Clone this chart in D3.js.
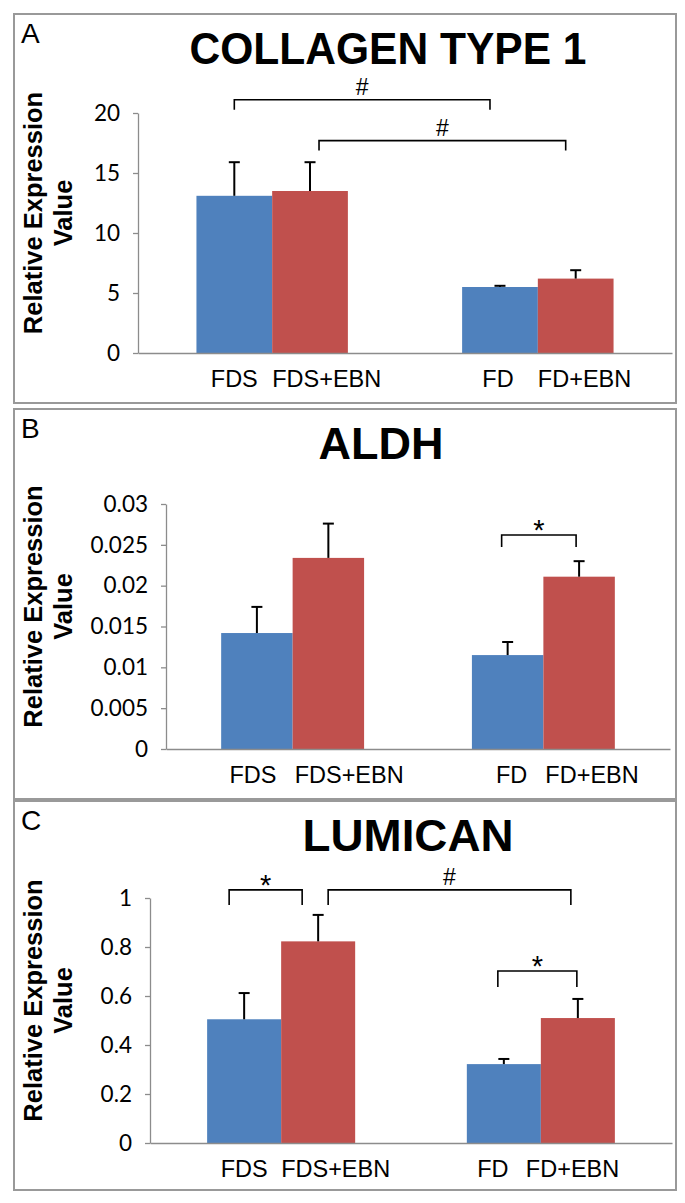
<!DOCTYPE html>
<html>
<head>
<meta charset="utf-8">
<script src="https://cdn.jsdelivr.net/npm/d3@7"></script>
<style>
  body { margin: 0; background: #fff; }
  svg { display: block; }
</style>
</head>
<body>
<div id="chart"></div>
<script>
// categories and series
const categories = ["FDS", "FDS+EBN", "FD", "FD+EBN"];
const groups = ["FDS", "FD"];
const series = ["base", "EBN"];

const panelLetters = ["A", "B", "C"];
const panelTitles = ["COLLAGEN TYPE 1", "ALDH", "LUMICAN"];

// values (mean, error above mean)
const collagenMeans = [13.1, 13.5, 5.5, 6.2];
const collagenErrors = [2.8, 2.4, 0.1, 0.7];
const collagenTicks = [0, 5, 10, 15, 20];
const collagenTickLabels = ["0", "5", "10", "15", "20"];

const aldhMeans = [0.0142, 0.0234, 0.0115, 0.0211];
const aldhErrors = [0.0032, 0.0042, 0.0016, 0.0019];
const aldhTicks = [0, 0.005, 0.01, 0.015, 0.02, 0.025, 0.03];
const aldhTickLabels = ["0", "0.005", "0.01", "0.015", "0.02", "0.025", "0.03"];

const lumicanMeans = [0.505, 0.823, 0.322, 0.51];
const lumicanErrors = [0.107, 0.108, 0.021, 0.078];
const lumicanTicks = [0, 0.2, 0.4, 0.6, 0.8, 1];
const lumicanTickLabels = ["0", "0.2", "0.4", "0.6", "0.8", "1"];

// significance brackets: bar index from/to, height in data units, mark
const collagenBrackets = [
  { from: 0, to: 2, y: 21.1, mark: "#" },
  { from: 1, to: 3, y: 17.7, mark: "#" },
];
const aldhBrackets = [{ from: 2, to: 3, y: 0.0262, mark: "*" }];
const lumicanBrackets = [
  { from: 0, to: 1, y: 1.033, mark: "*" },
  { from: 1, to: 3, y: 1.033, mark: "#" },
  { from: 2, to: 3, y: 0.702, mark: "*" },
];

const panelData = [
  { means: collagenMeans, errors: collagenErrors, ticks: collagenTicks, tickLabels: collagenTickLabels, brackets: collagenBrackets },
  { means: aldhMeans, errors: aldhErrors, ticks: aldhTicks, tickLabels: aldhTickLabels, brackets: aldhBrackets },
  { means: lumicanMeans, errors: lumicanErrors, ticks: lumicanTicks, tickLabels: lumicanTickLabels, brackets: lumicanBrackets },
];

// layout (pixels)
const layout = [
  { top: 14, bottom: 403, plotLeft: 138, plotRight: 672, plotTop: 113, plotBottom: 353,
    titleX: 388, titleW: 397, bracketDx: [[0, -10], [9, -10]], drop: [10, 10],
    labelDx: [0, 0, -2, 0] },
  { top: 409, bottom: 799, plotLeft: 166, plotRight: 670, plotTop: 504, plotBottom: 749,
    titleX: 381, titleW: 125, bracketDx: [[-6, -3]], drop: [12],
    labelDx: [-4, 2, 4, 2] },
  { top: 801, bottom: 1190, plotLeft: 150, plotRight: 672, plotTop: 898, plotBottom: 1143,
    titleX: 408, titleW: 211, bracketDx: [[-15, -16], [10, -7], [-6, -1]], drop: [15, 15, 16],
    labelDx: [0, 0, -11, -15] },
];

const width = 685;
const height = 1203;
const colors = ["#4F81BD", "#C0504D"];
const axisGrey = "#8c8c8c";

const svg = d3
  .select("#chart")
  .append("svg")
  .attr("width", width)
  .attr("height", height);

panelData.forEach((d, i) => {
  const L = layout[i];
  const g = svg.append("g");

  // panel frame
  g.append("rect")
    .attr("x", 14)
    .attr("y", L.top)
    .attr("width", 662)
    .attr("height", L.bottom - L.top)
    .attr("fill", "none")
    .attr("stroke", "#999")
    .attr("stroke-width", 2);

  g.append("text")
    .attr("x", 21)
    .attr("y", L.top + 29)
    .style("font-family", "Liberation Sans, Arial, sans-serif")
    .style("font-size", "28px")
    .text(panelLetters[i]);

  g.append("text")
    .attr("x", L.titleX)
    .attr("y", L.top + 50)
    .attr("text-anchor", "middle")
    .attr("textLength", L.titleW)
    .attr("lengthAdjust", "spacingAndGlyphs")
    .style("font-family", "Liberation Sans, Arial, sans-serif")
    .style("font-weight", "bold")
    .style("font-size", "45px")
    .text(panelTitles[i]);

  const y = d3
    .scaleLinear()
    .domain([0, d3.max(d.ticks)])
    .range([L.plotBottom, L.plotTop]);

  const x0 = d3
    .scaleBand()
    .domain(groups)
    .range([L.plotLeft, L.plotRight])
    .paddingInner(0.43)
    .paddingOuter(0.22);

  const x1 = d3.scaleBand().domain(series).range([0, x0.bandwidth()]);

  const barX = (k) => x0(groups[Math.floor(k / 2)]) + x1(series[k % 2]);
  const barMid = (k) => barX(k) + x1.bandwidth() / 2;

  // y axis
  const yAxis = g
    .append("g")
    .attr("transform", `translate(${L.plotLeft},0)`)
    .call(
      d3
        .axisLeft(y)
        .tickValues(d.ticks)
        .tickFormat((v, j) => d.tickLabels[j])
        .tickSize(5)
        .tickSizeOuter(0)
        .tickPadding(13)
    );
  yAxis.select(".domain").attr("stroke", axisGrey).attr("stroke-width", 1.3);
  yAxis.selectAll(".tick line").attr("stroke", axisGrey).attr("stroke-width", 1.3);
  yAxis
    .selectAll(".tick text")
    .attr("fill", "#000")
    .style("font-family", "Lato, 'Open Sans', sans-serif")
    .style("font-size", "22.5px");

  // bars
  g.selectAll("rect.bar")
    .data(d.means)
    .enter()
    .append("rect")
    .attr("class", "bar")
    .attr("x", (v, k) => barX(k))
    .attr("y", (v) => y(v))
    .attr("width", x1.bandwidth())
    .attr("height", (v) => y(0) - y(v))
    .attr("fill", (v, k) => colors[k % 2]);

  // x axis
  const xAxis = g
    .append("g")
    .attr("transform", `translate(0,${L.plotBottom})`)
    .call(d3.axisBottom(x0).tickValues([]).tickSizeOuter(0));
  xAxis.select(".domain").attr("stroke", axisGrey).attr("stroke-width", 1.3);

  // error bars
  d.means.forEach((m, k) => {
    const cx = barMid(k);
    const yTop = y(m + d.errors[k]);
    g.append("line")
      .attr("x1", cx).attr("x2", cx)
      .attr("y1", y(m)).attr("y2", yTop)
      .attr("stroke", "#000").attr("stroke-width", 2);
    g.append("line")
      .attr("x1", cx - 5.5).attr("x2", cx + 5.5)
      .attr("y1", yTop).attr("y2", yTop)
      .attr("stroke", "#000").attr("stroke-width", 2);
  });

  // category labels: base label centred on its bar, EBN label starts at its bar
  categories.forEach((c, k) => {
    const isEbn = k % 2 === 1;
    g.append("text")
      .attr("x", (isEbn ? barX(k) : barMid(k)) + L.labelDx[k])
      .attr("y", L.plotBottom + 34)
      .attr("text-anchor", isEbn ? "start" : "middle")
      .style("font-family", "Liberation Sans, Arial, sans-serif")
      .style("font-size", "23.5px")
      .text(c);
  });

  // y axis title, two lines
  const cy = (L.plotTop + L.plotBottom) / 2 - 20;
  ["Relative Expression", "Value"].forEach((t, j) => {
    g.append("text")
      .attr("transform", `translate(${42 + j * 30},${cy}) rotate(-90)`)
      .attr("text-anchor", "middle")
      .style("font-family", "Liberation Sans, Arial, sans-serif")
      .style("font-weight", "bold")
      .style("font-size", "25.5px")
      .text(t);
  });

  // significance brackets
  d.brackets.forEach((b, j) => {
    const xa = barMid(b.from) + L.bracketDx[j][0];
    const xb = barMid(b.to) + L.bracketDx[j][1];
    const yb = y(b.y);
    g.append("path")
      .attr("d", `M${xa},${yb + L.drop[j]}V${yb}H${xb}V${yb + L.drop[j]}`)
      .attr("fill", "none")
      .attr("stroke", "#000")
      .attr("stroke-width", 1.6);
    g.append("text")
      .attr("x", (xa + xb) / 2)
      .attr("y", b.mark === "#" ? yb - 5 : yb + 5)
      .attr("text-anchor", "middle")
      .style("font-family", "Liberation Sans, Arial, sans-serif")
      .style("font-size", b.mark === "#" ? "23px" : "29px")
      .text(b.mark);
  });
});
</script>
</body>
</html>
